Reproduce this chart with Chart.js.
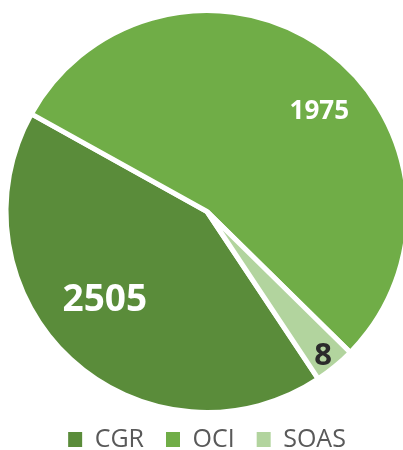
<!DOCTYPE html>
<html>
<head>
<meta charset="utf-8">
<script src="https://cdn.jsdelivr.net/npm/chart.js@4.4.1/dist/chart.umd.min.js"></script>
<style>
    html, body { margin: 0; padding: 0; background: #fff; }
    #wrap { width: 403px; height: 450px; }
</style>
</head>
<body>
<div id="wrap"><canvas id="pieChart"></canvas></div>
<script>
// values printed on the slices
const categories = ['CGR', 'OCI', 'SOAS'];
const counts = [2505, 1975, 8];
// slice sizes as drawn in the picture (percent of the circle)
const shares = [42.4, 54.3, 3.3];
const colors = ['#5A8C3A', '#70AD47', '#B2D49E'];

// per-slice label style: colour, font size, radius fraction, angle shift (deg)
const labelStyle = [
    { color: '#ffffff', size: 37, r: 0.67, shift: 6.6 },
    { color: '#ffffff', size: 26, r: 0.75, shift: 11.4 },
    { color: '#2b2b2b', size: 31, r: 0.92, shift: 0.6 },
];

const sliceLabels = {
    id: 'sliceLabels',
    afterDatasetsDraw(chart) {
        const ctx = chart.ctx;
        const arcs = chart.getDatasetMeta(0).data;
        ctx.save();
        ctx.textAlign = 'center';
        ctx.textBaseline = 'middle';
        arcs.forEach((arc, i) => {
            const s = labelStyle[i];
            const a = (arc.startAngle + arc.endAngle) / 2 + s.shift * Math.PI / 180;
            const r = arc.outerRadius * s.r;
            ctx.fillStyle = s.color;
            ctx.font = `bold ${s.size}px "Open Sans", sans-serif`;
            ctx.fillText(String(counts[i]), arc.x + Math.cos(a) * r, arc.y + Math.sin(a) * r + 1);
        });
        ctx.restore();
    }
};

new Chart(document.getElementById('pieChart'), {
    type: 'pie',
    data: {
        labels: categories,
        datasets: [{
            data: shares,
            backgroundColor: colors,
            borderColor: '#ffffff',
            borderWidth: 5,
            clip: false,
        }]
    },
    options: {
        responsive: true,
        maintainAspectRatio: false,
        animation: false,
        rotation: 146.4,
        radius: 201,
        layout: { padding: { left: 11, right: 0, top: 18, bottom: -12 } },
        plugins: {
            tooltip: { enabled: false },
            legend: {
                position: 'bottom',
                labels: {
                    boxWidth: 14,
                    boxHeight: 15,
                    padding: 22,
                    color: '#595959',
                    font: { family: '"Open Sans", sans-serif', size: 25 },
                    generateLabels(chart) {
                        const items = Chart.overrides.pie.plugins.legend.labels.generateLabels(chart);
                        items.forEach(it => { it.lineWidth = 0; it.strokeStyle = it.fillStyle; });
                        return items;
                    }
                }
            }
        }
    },
    plugins: [sliceLabels]
});
</script>
</body>
</html>
